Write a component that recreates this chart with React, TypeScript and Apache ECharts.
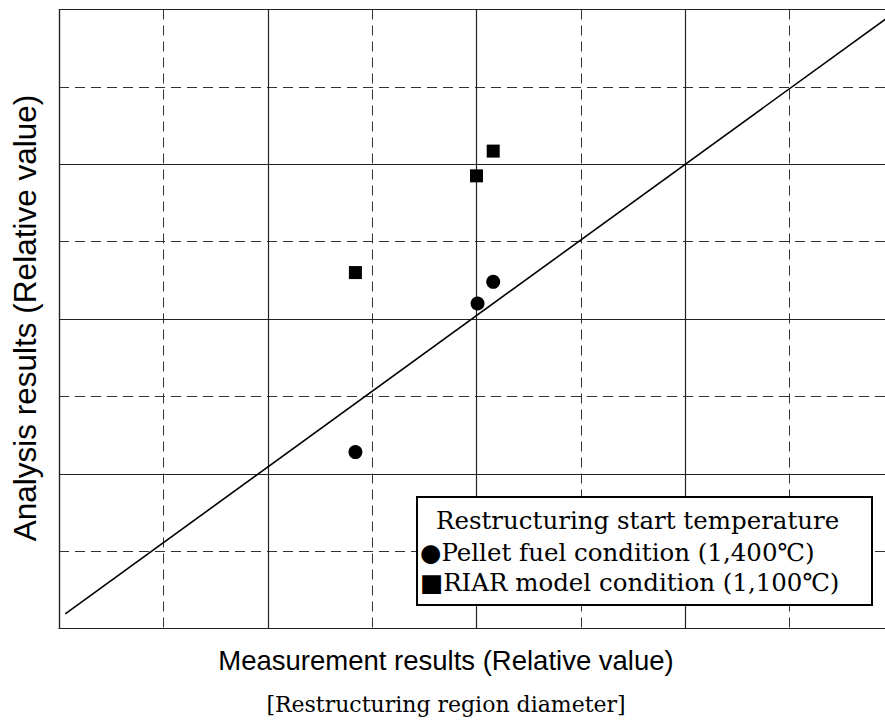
import React, { useEffect, useRef } from "react";
import * as echarts from "echarts";

// Measured vs. analysed restructuring region diameter (relative units)
const pelletX = [2.84, 4.01, 4.16];
const pelletY = [2.28, 4.2, 4.48];
const riarX = [2.84, 4.0, 4.16];
const riarY = [4.6, 5.85, 6.17];
const refLineX = [0.06, 8];
const refLineY = [0.19, 7.956];

const xTitle = "Measurement results (Relative value)";
const yTitle = "Analysis results (Relative value)";
const subTitle = "[Restructuring region diameter]";
const legendTitle = "Restructuring start temperature";
const legendItems = ["●Pellet fuel condition (1,400℃)", "■RIAR model condition (1,100℃)"];

const SANS = "'Liberation Sans', Arial, sans-serif";
const SERIF = "'DejaVu Serif', 'Liberation Serif', serif";

export default function App() {
  const ref = useRef<HTMLDivElement>(null);

  useEffect(() => {
    if (!ref.current) return;
    const chart = echarts.init(ref.current, null, { renderer: "svg" });

    const hiddenAxis = {
      type: "value" as const,
      min: 0,
      max: 8,
      axisLabel: { show: false },
      axisTick: { show: false },
    };

    chart.setOption({
      animation: false,
      backgroundColor: "#ffffff",
      // the plot runs on past the right edge of the visible page
      grid: { left: 59, top: 9.5, width: 835, height: 619, containLabel: false },
      xAxis: [
        {
          ...hiddenAxis,
          interval: 1,
          position: "bottom",
          axisLine: { show: true, onZero: false, lineStyle: { color: "#222", width: 1.2 } },
          splitLine: { show: true, lineStyle: { color: "#333", width: 1, type: [10, 6] } },
          z: 1,
        },
        {
          ...hiddenAxis,
          interval: 2,
          position: "top",
          axisLine: { show: false },
          splitLine: { show: true, lineStyle: { color: "#222", width: 1.2, type: "solid" } },
          z: 2,
        },
      ],
      yAxis: [
        {
          ...hiddenAxis,
          interval: 1,
          position: "left",
          axisLine: { show: true, onZero: false, lineStyle: { color: "#222", width: 1.2 } },
          splitLine: { show: true, lineStyle: { color: "#333", width: 1, type: [10, 6] } },
          z: 1,
        },
        {
          ...hiddenAxis,
          interval: 2,
          position: "right",
          axisLine: { show: false },
          splitLine: { show: true, lineStyle: { color: "#222", width: 1.2, type: "solid" } },
          z: 2,
        },
      ],
      series: [
        {
          name: "Reference",
          type: "line",
          data: refLineX.map((x, i) => [x, refLineY[i]]),
          symbol: "none",
          lineStyle: { color: "#000", width: 1.6 },
          z: 5,
        },
        {
          name: "Pellet fuel condition (1,400℃)",
          type: "scatter",
          data: pelletX.map((x, i) => [x, pelletY[i]]),
          symbol: "circle",
          symbolSize: 14,
          itemStyle: { color: "#000", opacity: 1 },
          z: 6,
        },
        {
          name: "RIAR model condition (1,100℃)",
          type: "scatter",
          data: riarX.map((x, i) => [x, riarY[i]]),
          symbol: "rect",
          symbolSize: 13,
          itemStyle: { color: "#000", opacity: 1 },
          z: 6,
        },
      ],
      graphic: [
        {
          type: "rect",
          z: 100,
          shape: { x: 417, y: 497, width: 455, height: 108 },
          style: { fill: "#fff", stroke: "#000", lineWidth: 2 },
        },
        {
          type: "text",
          z: 101,
          x: 436,
          y: 520,
          style: { text: legendTitle, font: `24.5px ${SERIF}`, fill: "#000", textVerticalAlign: "middle" },
        },
        ...legendItems.map((t, i) => ({
          type: "text",
          z: 101,
          x: 420,
          y: 552 + i * 30,
          style: { text: t, font: `24.5px ${SERIF}`, fill: "#000", textVerticalAlign: "middle" },
        })),
        {
          type: "text",
          x: 446,
          y: 660,
          style: { text: xTitle, font: `27.5px ${SANS}`, fill: "#000", textAlign: "center", textVerticalAlign: "middle" },
        },
        {
          type: "text",
          x: 446,
          y: 704,
          style: { text: subTitle, font: `22px ${SERIF}`, fill: "#000", textAlign: "center", textVerticalAlign: "middle" },
        },
        {
          type: "text",
          x: 25,
          y: 318,
          rotation: Math.PI / 2,
          style: { text: yTitle, font: `31.5px ${SANS}`, fill: "#000", textAlign: "center", textVerticalAlign: "middle" },
        },
      ],
    });

    return () => chart.dispose();
  }, []);

  return (
    <div style={{ position: "absolute", left: 0, top: 0, width: 885, height: 722, overflow: "hidden", background: "#fff" }}>
      <div ref={ref} style={{ width: 910, height: 722 }} />
    </div>
  );
}
